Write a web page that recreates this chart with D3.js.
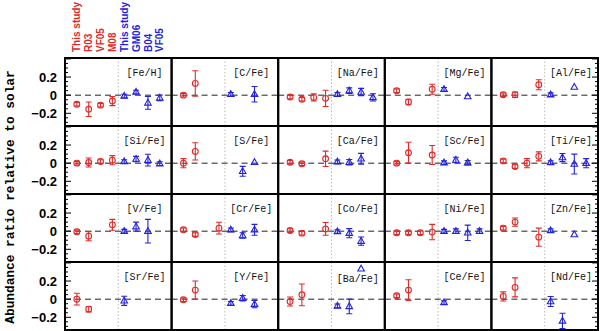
<!DOCTYPE html>
<html><head><meta charset="utf-8">
<script src="https://cdn.jsdelivr.net/npm/d3@7"></script>
<style>body{margin:0;background:#fff}</style>
</head><body>
<script>
// ---------- data ----------
const panelLabels = ["[Fe/H]","[C/Fe]","[Na/Fe]","[Mg/Fe]","[Al/Fe]",
  "[Si/Fe]","[S/Fe]","[Ca/Fe]","[Sc/Fe]","[Ti/Fe]",
  "[V/Fe]","[Cr/Fe]","[Co/Fe]","[Ni/Fe]","[Zn/Fe]",
  "[Sr/Fe]","[Y/Fe]","[Ba/Fe]","[Ce/Fe]","[Nd/Fe]"];
const sources = ["This study","R03","VF05","M08","This study","GM06","B04","VF05"];
const sourceGroup = ["red","red","red","red","blue","blue","blue","blue"];
// values per panel for the 8 sources (null = not available)
const values = [
  [-0.10,-0.155,-0.11,-0.065,-0.01,0.035,-0.085,-0.03],
  [0.00,0.13,null,null,0.01,null,0.01,null],
  [-0.02,-0.045,-0.025,-0.035,0.01,0.05,0.035,-0.025],
  [0.05,-0.075,null,0.065,0.065,null,-0.015,null],
  [0.005,0.005,null,0.115,0.005,null,0.09,null],
  [0.00,0.007,0.018,0.033,0.018,0.045,0.033,-0.005],
  [0.00,0.13,null,null,null,-0.09,0.01,null],
  [0.01,-0.007,null,0.048,0.015,0.01,0.048,null],
  [0.00,0.115,null,0.09,0.005,0.035,0.005,null],
  [0.025,-0.037,0.00,0.075,0.007,0.062,-0.01,0.00],
  [-0.007,-0.055,null,0.07,0.00,0.05,0.00,null],
  [0.015,-0.037,null,0.033,0.015,-0.048,0.015,null],
  [0.007,-0.022,null,0.025,-0.004,-0.022,-0.11,null],
  [-0.018,-0.018,-0.018,-0.01,0.00,0.00,-0.018,0.00],
  [0.033,0.10,null,-0.066,0.007,null,-0.037,null],
  [0.00,-0.11,null,null,-0.018,null,null,null],
  [-0.007,0.10,null,null,-0.045,0.011,-0.055,null],
  [-0.026,0.048,null,null,-0.074,-0.08,0.335,null],
  [0.037,0.10,null,null,-0.037,null,null,null],
  [0.03,0.13,null,null,-0.026,-0.24,null,null]
];
// error bars (null = none drawn)
const errors = [
  [0.02,0.08,0.02,0.05,0.02,0.02,0.07,0.03],
  [0.02,0.14,null,null,0.02,null,0.085,null],
  [0.02,0.02,0.04,0.09,0.02,0.03,0.04,0.04],
  [0.02,0.03,null,0.055,0.02,null,null,null],
  [0.02,0.03,null,0.055,0.02,null,null,null],
  [0.02,0.05,0.02,0.05,0.02,0.03,0.065,0.02],
  [0.05,0.095,null,null,null,0.055,null,null],
  [0.02,0.02,null,0.085,0.02,0.03,0.06,null],
  [0.02,0.115,null,0.105,0.02,0.03,0.025,null],
  [0.02,0.02,0.05,0.05,0.02,0.045,0.11,0.05],
  [0.02,0.05,null,0.06,0.02,0.05,0.13,null],
  [0.02,0.02,null,0.065,0.02,0.03,0.06,null],
  [0.02,0.02,null,0.07,0.02,0.05,0.045,null],
  [0.02,0.02,0.02,0.085,0.02,0.025,0.085,0.025],
  [0.02,0.045,null,0.10,0.02,null,null,null],
  [0.065,0.03,null,null,0.05,null,null,null],
  [0.02,0.10,null,null,0.02,0.03,0.04,null],
  [0.05,0.12,null,null,0.02,0.08,null,null],
  [0.02,0.115,null,null,0.02,null,null,null],
  [0.05,0.105,null,null,0.055,0.085,null,null]
];
const yTickLabels = [0.2, 0, -0.2];
const yDomain = [-0.34, 0.41];
const yLabel = "Abundance ratio relative to solar";

// ---------- layout ----------
const W = 600, H = 331;
const gridLeft = 65, gridRight = 598, gridTop = 58, rowH = 68;
const nCols = 5, nRows = 4;
const colW = (gridRight - gridLeft) / nCols;
const colors = {red: "#e02a2a", blue: "#2323dd"};

const svg = d3.select("body").append("svg").attr("width", W).attr("height", H);
const defs = svg.append("defs");

const x = d3.scaleLinear().domain([0, 9]).range([0, colW]);
const y = d3.scaleLinear().domain(yDomain).range([rowH, 0]);

const tri = "M0,-3.6L3.3,2.2L-3.3,2.2Z";

panelLabels.forEach((lab, i) => {
  const c = i % nCols, r = Math.floor(i / nCols);
  const g = svg.append("g").attr("transform", `translate(${gridLeft + c * colW},${gridTop + r * rowH})`);
  defs.append("clipPath").attr("id", "clip" + i).append("rect")
    .attr("width", colW).attr("height", rowH);
  const inner = g.append("g").attr("clip-path", `url(#clip${i})`);

  // separator between the two groups
  inner.append("line").attr("x1", x(4.5)).attr("x2", x(4.5)).attr("y1", 0).attr("y2", rowH)
    .attr("stroke", "#aaa").attr("stroke-width", 0.8).attr("stroke-dasharray", "1.5,2");
  // zero line
  inner.append("line").attr("x1", 0).attr("x2", colW).attr("y1", y(0)).attr("y2", y(0))
    .attr("stroke", "#222").attr("stroke-width", 1).attr("stroke-dasharray", "6,4");

  const pts = values[i].map((v, k) => ({v, e: errors[i][k], k, grp: sourceGroup[k]}))
    .filter(d => d.v !== null);

  pts.forEach(d => {
    const col = colors[d.grp];
    const px = x(d.k + 1), py = y(d.v);
    if (d.grp === "red") {
      inner.append("circle").attr("cx", px).attr("cy", py).attr("r", 2.9)
        .attr("fill", "none").attr("stroke", col).attr("stroke-width", 1.1);
    } else {
      inner.append("path").attr("d", tri).attr("transform", `translate(${px},${py})`)
        .attr("fill", "none").attr("stroke", col).attr("stroke-width", 1.1);
    }
    if (d.e !== null) {
      const y1 = y(d.v + d.e), y2 = y(d.v - d.e);
      inner.append("line").attr("x1", px).attr("x2", px).attr("y1", y1).attr("y2", y2)
        .attr("stroke", col).attr("stroke-width", 1.1);
      [y1, y2].forEach(yy => inner.append("line").attr("x1", px - 3).attr("x2", px + 3)
        .attr("y1", yy).attr("y2", yy).attr("stroke", col).attr("stroke-width", 1.1));
    }
  });

  // panel label (moved down if a point occupies the top area)
  const high = values[i].some(v => v !== null && v > 0.25);
  g.append("text").attr("x", x(6.72)).attr("y", high ? y(0.185) : y(0.215))
    .attr("text-anchor", "middle")
    .attr("font-family", "'Liberation Mono', 'DejaVu Sans Mono', monospace")
    .attr("font-size", 10).attr("fill", "#111").text(lab);

  // ticks on outer edges
  const minor = d3.range(-0.3, 0.41, 0.05).map(v => +v.toFixed(2));
  if (c === 0 || c === nCols - 1) {
    const edge = c === 0 ? 0 : colW;
    const dir = c === 0 ? 1 : -1;
    minor.forEach(v => {
      const major = Math.abs(Math.round(v * 10) - v * 10) < 1e-6 && Math.round(v * 10) % 2 === 0;
      const len = major ? 6 : 3;
      g.append("line").attr("x1", edge).attr("x2", edge + dir * len)
        .attr("y1", y(v)).attr("y2", y(v)).attr("stroke", "#000").attr("stroke-width", 1);
    });
  }
  if (c === 0) {
    yTickLabels.forEach(v => {
      g.append("text").attr("x", -8).attr("y", y(v)).attr("dy", "0.36em")
        .attr("text-anchor", "end")
        .attr("font-family", "'Liberation Sans', Arial, sans-serif").attr("font-weight", "bold")
        .attr("font-size", 13).attr("fill", "#000")
        .text(v === 0 ? "0" : (v < 0 ? "\u2212" : "") + Math.abs(v).toFixed(1));
    });
  }
  g.append("rect").attr("width", colW).attr("height", rowH)
    .attr("fill", "none").attr("stroke", "#000").attr("stroke-width", 2);
});

// source labels above the first panel
sources.forEach((s, k) => {
  const px = gridLeft + x(k + 1);
  svg.append("text").attr("transform", `translate(${px},52) rotate(-90)`)
    .attr("dy", "0.36em").attr("text-anchor", "start")
    .attr("font-family", "'Liberation Sans', Arial, sans-serif").attr("font-weight", "bold")
    .attr("font-size", 10).attr("fill", colors[sourceGroup[k]]).text(s);
});

// y-axis label
svg.append("text").attr("transform", `translate(9,${gridTop + 2 * rowH + 3}) rotate(-90)`)
  .attr("dy", "0.36em").attr("text-anchor", "middle")
  .attr("font-family", "'Liberation Mono', 'DejaVu Sans Mono', monospace").attr("font-weight", "bold")
  .attr("font-size", 12.8).attr("fill", "#000").text(yLabel);
</script>
</body></html>
